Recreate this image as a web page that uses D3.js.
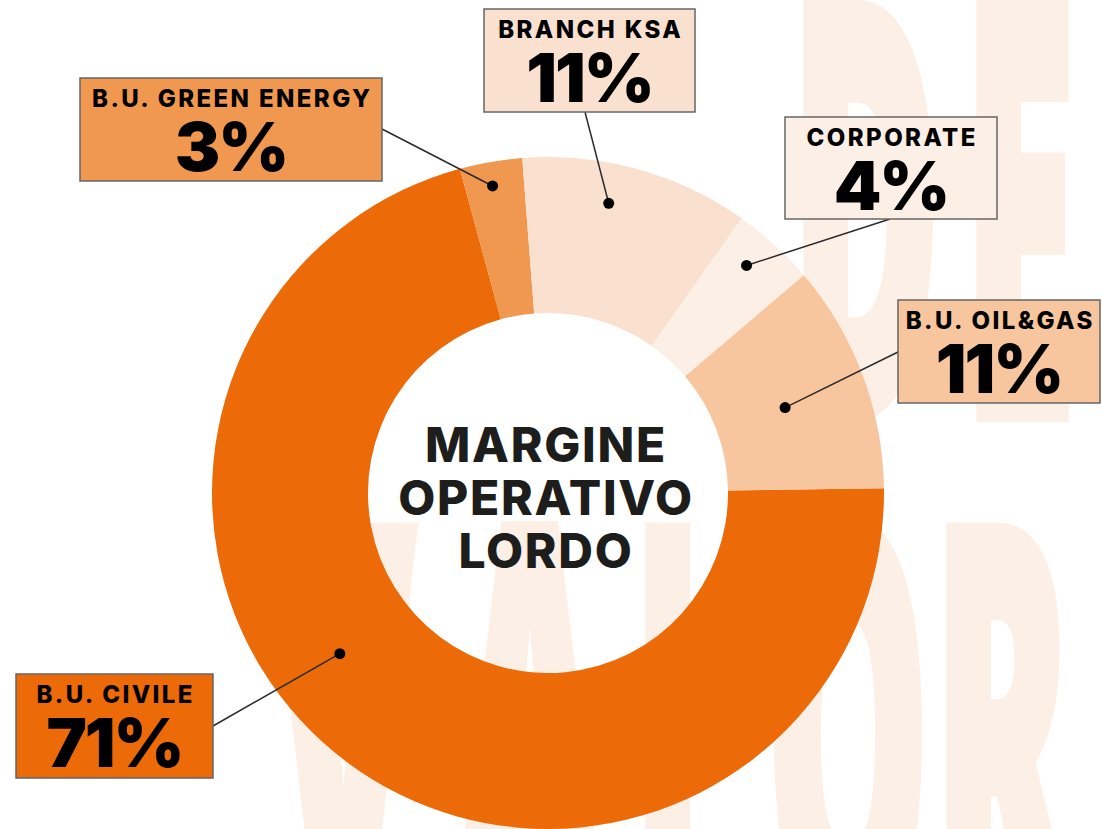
<!DOCTYPE html>
<html>
<head>
<meta charset="utf-8">
<script src="https://cdn.jsdelivr.net/npm/d3@7"></script>
<style>
  body { margin: 0; background: #fff; }
  svg { display: block; }
</style>
</head>
<body>
<div id="chart"></div>
<script>
// data
var segments = ["B.U. CIVILE", "B.U. GREEN ENERGY", "BRANCH KSA", "CORPORATE", "B.U. OIL&GAS"];
var shares = [71, 3, 11, 4, 11];
var segmentColors = ["#ec6a07", "#f0984f", "#fae0cf", "#fcefe6", "#f7c59e"];
var centerTitle = ["MARGINE", "OPERATIVO", "LORDO"];

var width = 1102,
  height = 829,
  svg = d3
    .select("#chart")
    .append("svg")
    .attr("width", width)
    .attr("height", height);

var cx = 548, cy = 493,
  rInner = 180, rOuter = 336;

var color = d3.scaleOrdinal().domain(segments).range(segmentColors);

// big faded letters in the background
var bgLetters = [
  { ch: "D", x: 790, base: 415 },
  { ch: "E", x: 963, base: 415 },
  { ch: "V", x: 272, base: 938 },
  { ch: "A", x: 455, base: 938 },
  { ch: "L", x: 632, base: 938 },
  { ch: "O", x: 766, base: 938 },
  { ch: "R", x: 933, base: 938 },
  { ch: "E", x: 1098, base: 938 }
];

svg.append("g")
  .selectAll("text")
  .data(bgLetters)
  .join("text")
  .attr("transform", d => `translate(${d.x},${d.base}) scale(0.36,1)`)
  .style("font-family", "'Open Sans', sans-serif")
  .style("font-weight", 800)
  .style("font-size", "572px")
  .attr("fill", "#fcefe6")
  .attr("stroke", "#fcefe6")
  .attr("stroke-width", 14)
  .text(d => d.ch);

// donut
var pie = d3.pie()
  .sort(null)
  .startAngle(89.2 * Math.PI / 180)
  .endAngle(89.2 * Math.PI / 180 + 2 * Math.PI);

var arcs = pie(shares).map((a, i) => Object.assign(a, { name: segments[i] }));

var arc = d3.arc().innerRadius(rInner).outerRadius(rOuter);

var gPie = svg.append("g").attr("transform", `translate(${cx},${cy})`);

gPie.selectAll("path")
  .data(arcs)
  .join("path")
  .attr("d", arc)
  .attr("fill", d => color(d.name));

// centre title
svg.append("g")
  .selectAll("text")
  .data(centerTitle)
  .join("text")
  .attr("x", cx - 2)
  .attr("y", (d, i) => 462 + i * 53)
  .attr("text-anchor", "middle")
  .style("font-family", "Inter, sans-serif")
  .style("font-weight", 800)
  .style("font-size", "48px")
  .style("letter-spacing", "1.7px")
  .attr("fill", "#1d1d1b")
  .text(d => d);

// callouts: box + leader line + dot (t = position inside the slice, r = radius)
var callouts = [
  { box: [16, 674, 197, 104], from: [213, 726], t: 0.56, r: 263 },
  { box: [80, 78, 302, 103], from: [382, 129], t: 0.46, r: 312 },
  { box: [484, 9, 211, 103], from: [585, 112], t: 0.41, r: 296 },
  { box: [785, 117, 212, 102], from: [890, 219], t: 0.41, r: 302 },
  { box: [898, 300, 202, 103], from: [898, 352], t: 0.52, r: 252 }
];

function dotPos(d, c) {
  var a = d.startAngle + c.t * (d.endAngle - d.startAngle);
  return [cx + c.r * Math.sin(a), cy - c.r * Math.cos(a)];
}

var gCall = svg.append("g")
  .selectAll("g")
  .data(arcs)
  .join("g");

gCall.append("line")
  .attr("x1", (d, i) => callouts[i].from[0])
  .attr("y1", (d, i) => callouts[i].from[1])
  .attr("x2", (d, i) => dotPos(d, callouts[i])[0])
  .attr("y2", (d, i) => dotPos(d, callouts[i])[1])
  .attr("stroke", "#2b2b2b")
  .attr("stroke-width", 1.5);

gCall.append("circle")
  .attr("cx", (d, i) => dotPos(d, callouts[i])[0])
  .attr("cy", (d, i) => dotPos(d, callouts[i])[1])
  .attr("r", 5.5)
  .attr("fill", "#000");

gCall.append("rect")
  .attr("x", (d, i) => callouts[i].box[0])
  .attr("y", (d, i) => callouts[i].box[1])
  .attr("width", (d, i) => callouts[i].box[2])
  .attr("height", (d, i) => callouts[i].box[3])
  .attr("fill", d => color(d.name))
  .attr("stroke", "#666")
  .attr("stroke-width", 1.5);

gCall.append("text")
  .attr("x", (d, i) => callouts[i].box[0] + callouts[i].box[2] / 2 + 1.2)
  .attr("y", (d, i) => callouts[i].box[1] + 29)
  .attr("text-anchor", "middle")
  .style("font-family", "Inter, sans-serif")
  .style("font-weight", 800)
  .style("font-size", "24px")
  .style("letter-spacing", "2.4px")
  .attr("fill", "#000")
  .text(d => d.name);

gCall.append("text")
  .attr("x", (d, i) => callouts[i].box[0] + callouts[i].box[2] / 2)
  .attr("y", (d, i) => callouts[i].box[1] + 93)
  .attr("text-anchor", "middle")
  .style("font-family", "Inter, sans-serif")
  .style("font-weight", 900)
  .style("font-size", "68px")
  .style("letter-spacing", "-2px")
  .attr("fill", "#000")
  .text(d => d.value + "%");
</script>
</body>
</html>
